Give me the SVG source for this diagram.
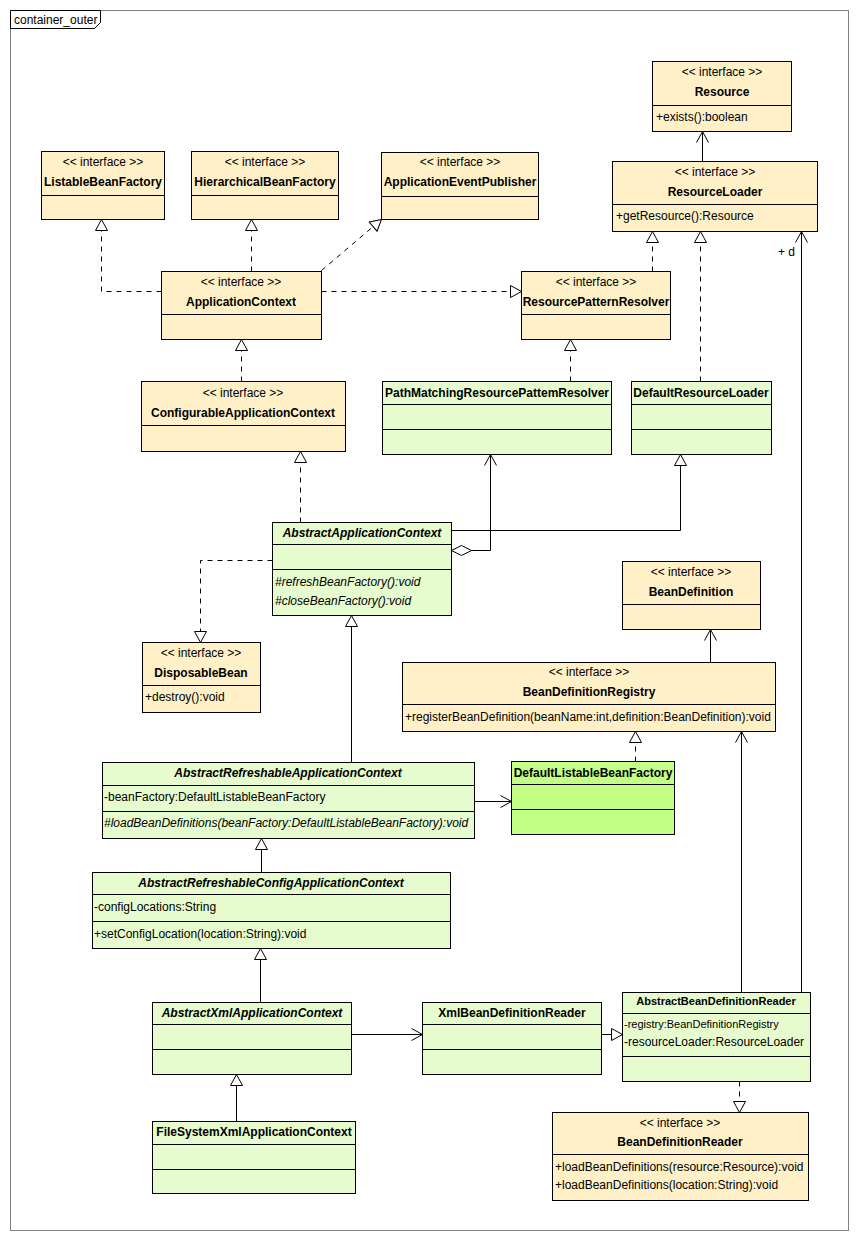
<svg xmlns="http://www.w3.org/2000/svg" width="858" height="1240" viewBox="0 0 858 1240">
<style>
text{font-family:"Liberation Sans",Arial,sans-serif;font-size:12px;fill:#000}
.st{text-anchor:middle}
.nm{text-anchor:middle;font-weight:bold}
.ab{font-style:italic}
.it{font-style:italic}
.if{fill:#FFF0C8;stroke:#000;stroke-width:1}
.cl{fill:#E6FCCE;stroke:#000;stroke-width:1}
.cl2{fill:#C3FF85;stroke:#000;stroke-width:1}
.dv{stroke:#000;stroke-width:1}
.c{fill:none;stroke:#000;stroke-width:1}
.d{stroke-dasharray:5,5}
</style>
<defs>
<marker id="tri" markerUnits="userSpaceOnUse" viewBox="-13 -8 14 16" markerWidth="14" markerHeight="16" refX="0" refY="0" orient="auto">
<path d="M-11,-6 L0,0 L-11,6 Z" fill="#fff" stroke="#000" stroke-width="1" stroke-dasharray="none"/>
</marker>
<marker id="arr" markerUnits="userSpaceOnUse" viewBox="-13 -8 14 16" markerWidth="14" markerHeight="16" refX="0" refY="0" orient="auto">
<path d="M-11,-6 L0,0 L-11,6" fill="none" stroke="#000" stroke-width="1" stroke-dasharray="none"/>
</marker>
<marker id="dia" markerUnits="userSpaceOnUse" viewBox="-1 -7 22 14" markerWidth="22" markerHeight="14" refX="0" refY="0" orient="auto">
<path d="M0,0 L10,-5 L20,0 L10,5 Z" fill="#fff" stroke="#000" stroke-width="1"/>
</marker>
</defs>
<rect x="0" y="0" width="858" height="1240" fill="#fff"/>
<g id="frame">
<rect x="10.5" y="10.5" width="838" height="1220" fill="none" stroke="#808080"/>
<path d="M10.5,10.5 H100.5 V22.5 L94.5,28.5 H10.5 Z" fill="#fff" stroke="#000"/>
<text x="14" y="24">container_outer</text>
</g>

<g id="connectors">
<path class="c d" d="M161.5,291.5 H101.5 V219.5" marker-end="url(#tri)"/>
<path class="c d" d="M251.5,271.5 V219.5" marker-end="url(#tri)"/>
<path class="c d" d="M321.5,270.5 L381.5,219.5" marker-end="url(#tri)"/>
<path class="c d" d="M321.5,291.5 H521.5" marker-end="url(#tri)"/>
<path class="c d" d="M652.5,271.5 V231.5" marker-end="url(#tri)"/>
<path class="c d" d="M700.5,381.5 V231.5" marker-end="url(#tri)"/>
<path class="c d" d="M241.5,381.5 V339.5" marker-end="url(#tri)"/>
<path class="c d" d="M570.5,381.5 V339.5" marker-end="url(#tri)"/>
<path class="c d" d="M300.5,522.5 V451.5" marker-end="url(#tri)"/>
<path class="c" d="M451.5,530.5 H680.5 V454.5" marker-end="url(#tri)"/>
<path class="c" d="M451.5,550.5 H490.5 V454.5" marker-start="url(#dia)" marker-end="url(#arr)"/>
<path class="c d" d="M272.5,560.5 H200.5 V642.5" marker-end="url(#tri)"/>
<path class="c" d="M351.5,762.5 V615.5" marker-end="url(#tri)"/>
<path class="c" d="M474.5,801.5 H511.5" marker-end="url(#arr)"/>
<path class="c d" d="M635.5,761.5 V731.5" marker-end="url(#tri)"/>
<path class="c" d="M710.5,662.5 V629.5" marker-end="url(#arr)"/>
<path class="c" d="M261.5,872.5 V838.5" marker-end="url(#tri)"/>
<path class="c" d="M260.5,1002.5 V948.5" marker-end="url(#tri)"/>
<path class="c" d="M236.5,1121.5 V1074.5" marker-end="url(#tri)"/>
<path class="c" d="M351.5,1034.5 H422.5" marker-end="url(#arr)"/>
<path class="c" d="M601.5,1034.5 H622.5" marker-end="url(#tri)"/>
<path class="c" d="M741.5,992.5 V731.5" marker-end="url(#arr)"/>
<path class="c" d="M801.5,992.5 V231.5" marker-end="url(#arr)"/>
<path class="c d" d="M739.5,1081.5 V1112.5" marker-end="url(#tri)"/>
<path class="c" d="M702.5,161.5 V131.5" marker-end="url(#arr)"/>
<text x="778" y="256">+ d</text>
</g>

<g id="Resource">
<rect class="if" x="652.5" y="61.5" width="139" height="70"/>
<line class="dv" x1="652.5" y1="105.5" x2="791.5" y2="105.5"/>
<text class="st" x="722" y="76">&lt;&lt; interface &gt;&gt;</text>
<text class="nm" x="722" y="96">Resource</text>
<text x="656" y="121">+exists():boolean</text>
</g>

<g id="ResourceLoader">
<rect class="if" x="612.5" y="161.5" width="205" height="70"/>
<line class="dv" x1="612.5" y1="204.5" x2="817.5" y2="204.5"/>
<text class="st" x="715" y="176">&lt;&lt; interface &gt;&gt;</text>
<text class="nm" x="715" y="196">ResourceLoader</text>
<text x="616" y="220">+getResource():Resource</text>
</g>

<g id="ListableBeanFactory">
<rect class="if" x="41.5" y="151.5" width="123" height="68"/>
<line class="dv" x1="41.5" y1="195.5" x2="164.5" y2="195.5"/>
<text class="st" x="103" y="166">&lt;&lt; interface &gt;&gt;</text>
<text class="nm" x="103" y="186">ListableBeanFactory</text>
</g>

<g id="HierarchicalBeanFactory">
<rect class="if" x="191.5" y="151.5" width="147" height="68"/>
<line class="dv" x1="191.5" y1="195.5" x2="338.5" y2="195.5"/>
<text class="st" x="265" y="166">&lt;&lt; interface &gt;&gt;</text>
<text class="nm" x="265" y="186">HierarchicalBeanFactory</text>
</g>

<g id="ApplicationEventPublisher">
<rect class="if" x="381.5" y="152.5" width="157" height="67"/>
<line class="dv" x1="381.5" y1="196.5" x2="538.5" y2="196.5"/>
<text class="st" x="460" y="166">&lt;&lt; interface &gt;&gt;</text>
<text class="nm" x="460" y="186">ApplicationEventPublisher</text>
</g>

<g id="ApplicationContext">
<rect class="if" x="161.5" y="271.5" width="160" height="68"/>
<line class="dv" x1="161.5" y1="314.5" x2="321.5" y2="314.5"/>
<text class="st" x="241" y="286">&lt;&lt; interface &gt;&gt;</text>
<text class="nm" x="241" y="306">ApplicationContext</text>
</g>

<g id="ResourcePatternResolver">
<rect class="if" x="521.5" y="271.5" width="149" height="68"/>
<line class="dv" x1="521.5" y1="314.5" x2="670.5" y2="314.5"/>
<text class="st" x="596" y="286">&lt;&lt; interface &gt;&gt;</text>
<text class="nm" x="596" y="306">ResourcePatternResolver</text>
</g>

<g id="ConfigurableApplicationContext">
<rect class="if" x="141.5" y="381.5" width="204" height="70"/>
<line class="dv" x1="141.5" y1="425.5" x2="345.5" y2="425.5"/>
<text class="st" x="243" y="397">&lt;&lt; interface &gt;&gt;</text>
<text class="nm" x="243" y="417">ConfigurableApplicationContext</text>
</g>

<g id="PathMatchingResourcePatternResolver">
<rect class="cl" x="382.5" y="381.5" width="229" height="73"/>
<line class="dv" x1="382.5" y1="404.5" x2="611.5" y2="404.5"/>
<line class="dv" x1="382.5" y1="429.5" x2="611.5" y2="429.5"/>
<text class="nm" x="497" y="397">PathMatchingResourcePattemResolver</text>
</g>

<g id="DefaultResourceLoader">
<rect class="cl" x="631.5" y="381.5" width="140" height="73"/>
<line class="dv" x1="631.5" y1="404.5" x2="771.5" y2="404.5"/>
<line class="dv" x1="631.5" y1="429.5" x2="771.5" y2="429.5"/>
<text class="nm" x="701" y="397">DefaultResourceLoader</text>
</g>

<g id="AbstractApplicationContext">
<rect class="cl" x="272.5" y="522.5" width="179" height="93"/>
<line class="dv" x1="272.5" y1="544.5" x2="451.5" y2="544.5"/>
<line class="dv" x1="272.5" y1="569.5" x2="451.5" y2="569.5"/>
<text class="nm ab" x="362" y="537">AbstractApplicationContext</text>
<text class="it" x="275" y="586">#refreshBeanFactory():void</text>
<text class="it" x="275" y="605">#closeBeanFactory():void</text>
</g>

<g id="DisposableBean">
<rect class="if" x="142.5" y="642.5" width="118" height="70"/>
<line class="dv" x1="142.5" y1="685.5" x2="260.5" y2="685.5"/>
<text class="st" x="201" y="657">&lt;&lt; interface &gt;&gt;</text>
<text class="nm" x="201" y="677">DisposableBean</text>
<text x="145" y="701">+destroy():void</text>
</g>

<g id="BeanDefinition">
<rect class="if" x="622.5" y="561.5" width="138" height="68"/>
<line class="dv" x1="622.5" y1="604.5" x2="760.5" y2="604.5"/>
<text class="st" x="691" y="576">&lt;&lt; interface &gt;&gt;</text>
<text class="nm" x="691" y="596">BeanDefinition</text>
</g>

<g id="BeanDefinitionRegistry">
<rect class="if" x="402.5" y="662.5" width="373" height="69"/>
<line class="dv" x1="402.5" y1="704.5" x2="775.5" y2="704.5"/>
<text class="st" x="589" y="676">&lt;&lt; interface &gt;&gt;</text>
<text class="nm" x="589" y="696">BeanDefinitionRegistry</text>
<text x="405" y="721">+registerBeanDefinition(beanName:int,definition:BeanDefinition):void</text>
</g>

<g id="DefaultListableBeanFactory">
<rect class="cl2" x="511.5" y="761.5" width="163" height="73"/>
<line class="dv" x1="511.5" y1="784.5" x2="674.5" y2="784.5"/>
<line class="dv" x1="511.5" y1="809.5" x2="674.5" y2="809.5"/>
<text class="nm" x="593" y="777">DefaultListableBeanFactory</text>
</g>

<g id="AbstractRefreshableApplicationContext">
<rect class="cl" x="102.5" y="762.5" width="372" height="76"/>
<line class="dv" x1="102.5" y1="785.5" x2="474.5" y2="785.5"/>
<line class="dv" x1="102.5" y1="811.5" x2="474.5" y2="811.5"/>
<text class="nm ab" x="288" y="777">AbstractRefreshableApplicationContext</text>
<text x="104" y="801">-beanFactory:DefaultListableBeanFactory</text>
<text class="it" x="104" y="827">#loadBeanDefinitions(beanFactory:DefaultListableBeanFactory):void</text>
</g>

<g id="AbstractRefreshableConfigApplicationContext">
<rect class="cl" x="92.5" y="872.5" width="358" height="76"/>
<line class="dv" x1="92.5" y1="894.5" x2="450.5" y2="894.5"/>
<line class="dv" x1="92.5" y1="921.5" x2="450.5" y2="921.5"/>
<text class="nm ab" x="271" y="887">AbstractRefreshableConfigApplicationContext</text>
<text x="94" y="911">-configLocations:String</text>
<text x="94" y="938">+setConfigLocation(location:String):void</text>
</g>

<g id="AbstractXmlApplicationContext">
<rect class="cl" x="152.5" y="1002.5" width="199" height="72"/>
<line class="dv" x1="152.5" y1="1024.5" x2="351.5" y2="1024.5"/>
<line class="dv" x1="152.5" y1="1049.5" x2="351.5" y2="1049.5"/>
<text class="nm ab" x="252" y="1017">AbstractXmlApplicationContext</text>
</g>

<g id="FileSystemXmlApplicationContext">
<rect class="cl" x="152.5" y="1121.5" width="203" height="72"/>
<line class="dv" x1="152.5" y1="1144.5" x2="355.5" y2="1144.5"/>
<line class="dv" x1="152.5" y1="1169.5" x2="355.5" y2="1169.5"/>
<text class="nm" x="254" y="1136">FileSystemXmlApplicationContext</text>
</g>

<g id="XmlBeanDefinitionReader">
<rect class="cl" x="422.5" y="1002.5" width="179" height="72"/>
<line class="dv" x1="422.5" y1="1024.5" x2="601.5" y2="1024.5"/>
<line class="dv" x1="422.5" y1="1049.5" x2="601.5" y2="1049.5"/>
<text class="nm" x="512" y="1017">XmlBeanDefinitionReader</text>
</g>

<g id="AbstractBeanDefinitionReader">
<rect class="cl" x="622.5" y="992.5" width="188" height="89"/>
<line class="dv" x1="622.5" y1="1013.5" x2="810.5" y2="1013.5"/>
<line class="dv" x1="622.5" y1="1056.5" x2="810.5" y2="1056.5"/>
<text class="nm" x="716" y="1005" style="font-size:11px">AbstractBeanDefinitionReader</text>
<text x="624" y="1028" style="font-size:11px">-registry:BeanDefinitionRegistry</text>
<text x="624" y="1046">-resourceLoader:ResourceLoader</text>
</g>

<g id="BeanDefinitionReader">
<rect class="if" x="552.5" y="1112.5" width="256" height="88"/>
<line class="dv" x1="552.5" y1="1154.5" x2="808.5" y2="1154.5"/>
<text class="st" x="680" y="1127">&lt;&lt; interface &gt;&gt;</text>
<text class="nm" x="680" y="1146">BeanDefinitionReader</text>
<text x="555" y="1171">+loadBeanDefinitions(resource:Resource):void</text>
<text x="555" y="1189">+loadBeanDefinitions(location:String):void</text>
</g>
</svg>
